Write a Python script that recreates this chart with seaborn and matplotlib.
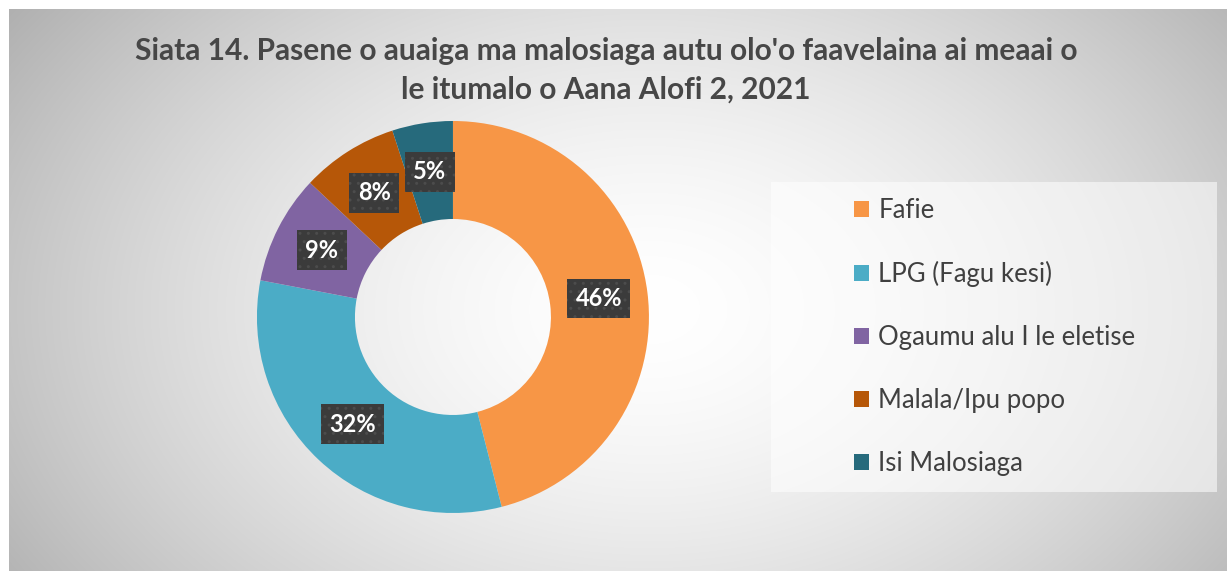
import numpy as np
import matplotlib.pyplot as plt
import seaborn as sns
from matplotlib.patches import Patch, Rectangle

# data
categories = ['Fafie', 'LPG (Fagu kesi)', 'Ogaumu alu I le eletise', 'Malala/Ipu popo', 'Isi Malosiaga']
shares = [46, 32, 9, 8, 5]
colors = ['#F79646', '#4BACC6', '#8064A2', '#B65708', '#266A7C']
title = "Siata 14. Pasene o auaiga ma malosiaga autu olo'o faavelaina ai meaai o\nle itumalo o Aana Alofi 2, 2021"

sns.set_theme(style='white')
plt.rcParams['font.family'] = ['Lato', 'DejaVu Sans']
palette = sns.color_palette(colors)

W, H = 1227, 571
fig = plt.figure(figsize=(W / 100, H / 100), dpi=100)
fig.patch.set_facecolor('white')

# radial gradient background
bg = fig.add_axes([9 / W, 0, 1 - 9 / W, 1 - 9 / H], zorder=-5)
yy, xx = np.mgrid[0:562, 0:1218]
r = np.sqrt(((xx - 640) / 760) ** 2 + ((yy - 300) / 520) ** 2)
val = np.clip(1 - 0.30 * r ** 1.6, 0, 1)
bg.imshow(np.dstack([val] * 3), aspect='auto', extent=[0, 1, 0, 1], origin='upper')
bg.axis('off')

# legend panel
fig.patches.append(Rectangle((771 / W, 1 - 492 / H), (1217 - 771) / W, (492 - 182) / H,
                             transform=fig.transFigure, facecolor='white', alpha=0.55,
                             edgecolor='none', zorder=-1))

ax = fig.add_axes([0.2094, 0.1016, 0.3195, 0.6865])
wedges, _, autotexts = ax.pie(
    shares, colors=palette, startangle=90, counterclock=False,
    radius=1, pctdistance=0.75, autopct='%1.0f%%',
    wedgeprops=dict(width=0.5, edgecolor='none'),
)
for t in autotexts:
    t.set_color('white')
    t.set_fontweight('bold')
    t.set_fontsize(17)
    t.set_bbox(dict(boxstyle='square,pad=0.35', fc='#3b3b3b', ec='#4c4c4c', hatch='..', lw=0))
ax.set_xlim(-1, 1)
ax.set_ylim(-1, 1)
ax.set_aspect('equal')
ax.axis('off')

fig.text(0.494, 1 - 70 / H, title, ha='center', va='center', fontsize=21.5,
         fontweight='bold', color='#474747', linespacing=1.45)

handles = [Patch(facecolor=c, edgecolor='none') for c in palette]
leg = fig.legend(handles, categories, loc='center left',
                 bbox_to_anchor=(854 / W, 1 - 337 / H), frameon=False,
                 fontsize=18.5, labelcolor='#404040', handlelength=0.6,
                 handleheight=0.6, handletextpad=0.35, labelspacing=1.48,
                 borderpad=0, borderaxespad=0)

fig.savefig('out.png', dpi=100)
